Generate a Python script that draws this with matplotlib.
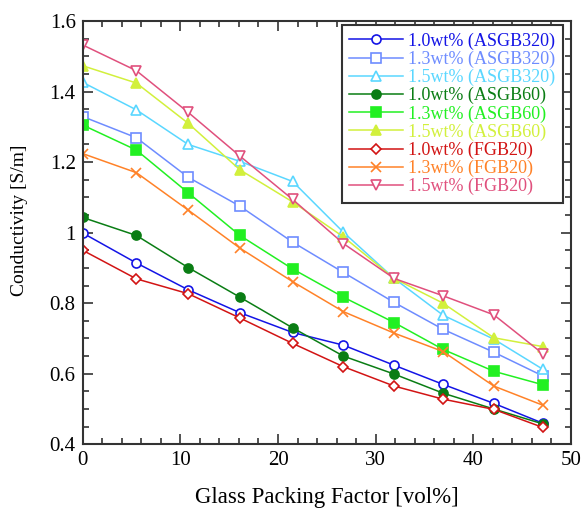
"""
Conductivity vs glass packing factor for the ASGB320 / ASGB60 / FGB20 samples.
"""

import matplotlib

matplotlib.use("Agg")
import matplotlib.pyplot as plt
from matplotlib.ticker import MultipleLocator

plt.rcParams["font.family"] = ["Liberation Serif", "DejaVu Serif"]

packing = [0, 5.5, 10.8, 16.1, 21.5, 26.7, 31.9, 36.9, 42.1, 47.1]

asgb320_10 = [0.999, 0.914, 0.838, 0.773, 0.717, 0.681, 0.624, 0.570, 0.516, 0.460]
asgb320_13 = [1.329, 1.269, 1.157, 1.075, 0.973, 0.887, 0.802, 0.726, 0.661, 0.594]
asgb320_15 = [1.426, 1.348, 1.250, 1.202, 1.145, 1.001, 0.870, 0.766, 0.698, 0.613]
asgb60_10 = [1.043, 0.992, 0.901, 0.817, 0.730, 0.650, 0.599, 0.545, 0.500, 0.458]
asgb60_13 = [1.305, 1.234, 1.113, 0.992, 0.897, 0.817, 0.745, 0.669, 0.607, 0.569]
asgb60_15 = [1.473, 1.424, 1.310, 1.178, 1.087, 0.988, 0.870, 0.800, 0.702, 0.677]
fgb20_10 = [0.950, 0.869, 0.827, 0.758, 0.686, 0.620, 0.565, 0.528, 0.499, 0.448]
fgb20_13 = [1.224, 1.170, 1.064, 0.956, 0.861, 0.776, 0.715, 0.663, 0.565, 0.511]
fgb20_15 = [1.532, 1.459, 1.341, 1.217, 1.094, 0.969, 0.870, 0.821, 0.767, 0.657]

series_labels = [
    "1.0wt% (ASGB320)",
    "1.3wt% (ASGB320)",
    "1.5wt% (ASGB320)",
    "1.0wt% (ASGB60)",
    "1.3wt% (ASGB60)",
    "1.5wt% (ASGB60)",
    "1.0wt% (FGB20)",
    "1.3wt% (FGB20)",
    "1.5wt% (FGB20)",
]
y_ticks = [0.4, 0.6, 0.8, 1.0, 1.2, 1.4, 1.6]
y_tick_labels = ["0.4", "0.6", "0.8", "1", "1.2", "1.4", "1.6"]
x_ticks = [0, 10, 20, 30, 40, 50]

series = [
    asgb320_10, asgb320_13, asgb320_15,
    asgb60_10, asgb60_13, asgb60_15,
    fgb20_10, fgb20_13, fgb20_15,
]
# (colour, marker, filled, markersize)
styles = [
    ("#1414e6", "o", False, 6.5),
    ("#6e8cff", "s", False, 6.5),
    ("#5ad7ff", "^", False, 6.5),
    ("#0a7d14", "o", True, 6.5),
    ("#22f022", "s", True, 6.5),
    ("#d2f03c", "^", True, 6.5),
    ("#d21414", "D", False, 4.8),
    ("#ff8228", "x", False, 6.5),
    ("#e0507d", "v", False, 6.5),
]

fig = plt.figure(figsize=(5.81, 5.11), dpi=100)
ax = fig.add_axes([0.1423, 0.1305, 0.8405, 0.8285])

for vals, label, (col, mk, filled, ms) in zip(series, series_labels, styles):
    ax.plot(
        packing,
        vals,
        color=col,
        marker=mk,
        markersize=ms,
        markerfacecolor=col if filled else "white",
        markeredgecolor=col,
        markeredgewidth=1.2,
        linewidth=1.1,
        label=label,
    )

ax.set_xlim(0, 50)
ax.set_ylim(0.4, 1.6)
ax.set_xticks(x_ticks)
ax.set_yticks(y_ticks, y_tick_labels)
ax.xaxis.set_minor_locator(MultipleLocator(2))
ax.yaxis.set_minor_locator(MultipleLocator(0.05))
ax.tick_params(which="both", direction="in", top=True, right=True,
               labelsize=15, width=1.2, color="#333333")
ax.tick_params(which="major", length=7, pad=5)
ax.tick_params(which="minor", length=4)
for sp in ax.spines.values():
    sp.set_linewidth(1.5)
    sp.set_color("#333333")

ax.set_xlabel("Glass Packing Factor [vol%]", fontsize=16.5)
ax.xaxis.set_label_coords(0.5, -0.1)
ax.set_ylabel("Conductivity [S/m]", fontsize=14)
ax.yaxis.set_label_coords(-0.112, 0.53)

leg = ax.legend(
    loc="upper right",
    bbox_to_anchor=(0.983, 0.99),
    borderaxespad=0,
    fontsize=13,
    handlelength=3.0,
    handletextpad=0.3,
    labelspacing=0.05,
    borderpad=0.4,
    fancybox=False,
    framealpha=1,
    edgecolor="#333333",
)
leg.get_frame().set_linewidth(1.5)
for txt, (col, _, _, _) in zip(leg.get_texts(), styles):
    txt.set_color(col)

plt.savefig("out.png", dpi=100)
